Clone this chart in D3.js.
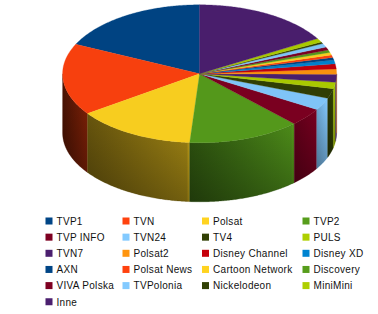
<!DOCTYPE html>
<html>
<head>
<meta charset="utf-8">
<script src="https://cdn.jsdelivr.net/npm/d3@7"></script>
<style>
  body { margin: 0; background: #fff; }
  svg { display: block; }
</style>
</head>
<body>
<div id="viz"></div>
<script>
// audience share per channel (percent)
var channels = ['TVP1', 'TVN', 'Polsat', 'TVP2', 'TVP INFO', 'TVN24', 'TV4', 'PULS',
                'TVN7', 'Polsat2', 'Disney Channel', 'Disney XD', 'AXN', 'Polsat News',
                'Cartoon Network', 'Discovery', 'VIVA Polska', 'TVPolonia', 'Nickelodeon',
                'MiniMini', 'Inne'];
var shares = [18.0, 16.8, 14.1, 13.3, 4.2, 2.9, 2.3, 1.5,
              1.9, 1.2, 1.2, 0.9, 0.6, 0.6,
              0.6, 0.6, 0.7, 0.9, 0.4,
              0.9, 16.5];
var colors = ['#004586', '#ff420e', '#ffd320', '#579d1c', '#7e0021', '#83caff', '#314004', '#aecf00',
              '#4b1f6f', '#ff950e', '#c5000b', '#0084d1', '#004586', '#ff420e',
              '#ffd320', '#579d1c', '#7e0021', '#83caff', '#314004',
              '#aecf00', '#4b1f6f'];

var width = 378, height = 314;
var cx = 199.6, cy = 73.8, rx = 137, ry = 69, depth = 59;

var xScale = d3.scaleLinear().domain([-1, 1]).range([cx - rx, cx + rx]);
var yScale = d3.scaleLinear().domain([-1, 1]).range([cy + ry, cy - ry]);

// brightness of the side wall by angle (degrees, counter-clockwise from top)
var light = d3.scaleLinear()
    .domain([90, 125, 176, 224, 250])
    .range([0.42, 0.52, 0.64, 0.88, 1])
    .clamp(true);

function rim(a, drop) {
  // counter-clockwise from 12 o'clock
  return [xScale(-Math.sin(a)), yScale(Math.cos(a)) + (drop || 0)];
}

function shade(c, k) {
  var r = d3.rgb(c);
  return d3.rgb(r.r * k, r.g * k, r.b * k).formatHex();
}

function arcPoints(a0, a1, drop) {
  var n = Math.max(2, Math.ceil(Math.abs(a1 - a0) / 0.01)), pts = [];
  for (var i = 0; i <= n; i++) pts.push(rim(a0 + (a1 - a0) * i / n, drop));
  return pts;
}

var arcs = d3.pie().sort(null).value(function(d) { return d; })(shares);

var svg = d3.select('#viz').append('svg')
    .attr('width', width)
    .attr('height', height);

var defs = svg.append('defs');

var vshade = defs.append('linearGradient')
    .attr('id', 'vshade')
    .attr('x1', 0).attr('y1', 0).attr('x2', 0).attr('y2', 1);
vshade.append('stop').attr('offset', 0).attr('stop-color', '#000').attr('stop-opacity', 0);
vshade.append('stop').attr('offset', 1).attr('stop-color', '#000').attr('stop-opacity', 0.3);

var line = d3.line();
var deg = 180 / Math.PI;

// side walls (front half only)
var sides = svg.append('g');
arcs.forEach(function(d, i) {
  var s = Math.max(d.startAngle, Math.PI / 2),
      e = Math.min(d.endAngle, Math.PI * 1.5);
  if (e <= s) return;

  var top = arcPoints(s, e, 0),
      bottom = arcPoints(e, s, depth),
      pts = top.concat(bottom);

  var L = Math.max(0.3, light(s * deg) - 0.12),
      R = light(e * deg);

  var g = defs.append('linearGradient')
      .attr('id', 'side' + i)
      .attr('gradientUnits', 'userSpaceOnUse')
      .attr('x1', rim(s)[0]).attr('y1', 0)
      .attr('x2', rim(e)[0]).attr('y2', 0);
  g.append('stop').attr('offset', 0).attr('stop-color', shade(colors[i], L));
  g.append('stop').attr('offset', 0.97).attr('stop-color', shade(colors[i], R));
  g.append('stop').attr('offset', 1).attr('stop-color', shade(colors[i], Math.min(1, R + 0.2)));

  sides.append('path')
    .attr('d', line(pts) + 'Z')
    .attr('fill', 'url(#side' + i + ')')
    .attr('stroke', shade(colors[i], L))
    .attr('stroke-width', 0.3);

  sides.append('path')
    .attr('d', line(pts) + 'Z')
    .attr('fill', 'url(#vshade)');
});

// top faces
svg.append('g').selectAll('path')
  .data(arcs)
  .enter().append('path')
    .attr('d', function(d) {
      return line([[cx, cy]].concat(arcPoints(d.startAngle, d.endAngle, 0))) + 'Z';
    })
    .attr('fill', function(d, i) { return shade(colors[i], 0.97); })
    .attr('stroke', function(d, i) { return shade(colors[i], 0.97); })
    .attr('stroke-width', 0.3);

// legend
var colX = [45.5, 122.5, 202, 302.5],
    rowY = 221, rowStep = 16.15;

var legend = svg.append('g').selectAll('g')
  .data(channels)
  .enter().append('g')
    .attr('transform', function(d, i) {
      return 'translate(' + colX[i % 4] + ',' + (rowY + Math.floor(i / 4) * rowStep) + ')';
    });

legend.append('rect')
  .attr('x', 0).attr('y', -3.5)
  .attr('width', 7).attr('height', 7)
  .attr('fill', function(d, i) { return colors[i]; });

legend.append('text')
  .attr('x', 11)
  .attr('y', 3.8)
  .style('font-family', '"Liberation Sans", Arial, sans-serif')
  .style('font-size', '10px')
  .style('letter-spacing', '0.3px')
  .style('fill', '#111')
  .text(function(d) { return d; });
</script>
</body>
</html>
